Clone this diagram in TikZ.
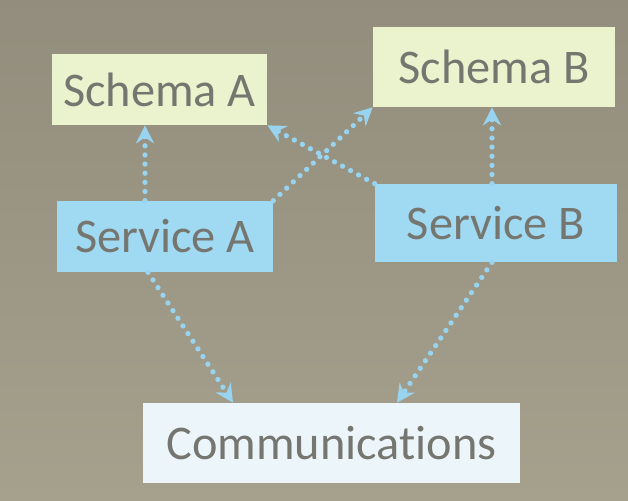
\documentclass[tikz,border=0pt]{standalone}
\usepackage{fontspec}
\setmainfont{Carlito}[Ligatures=NoCommon]
\usetikzlibrary{arrows.meta, positioning, calc}
\definecolor{slidetan}{RGB}{146, 141, 124}
\definecolor{slidetanlight}{RGB}{166, 161, 141}
\definecolor{schemayellow}{RGB}{234, 243, 206}
\definecolor{serviceblue}{RGB}{160, 217, 242}
\definecolor{commwhite}{RGB}{236, 246, 250}
\definecolor{linkblue}{RGB}{152, 211, 240}
\definecolor{labelgray}{RGB}{118, 118, 112}

\begin{document}
\begin{tikzpicture}[
    % Node styles
    box/.style={
        rectangle,
        fill=#1,
        text=labelgray,
        font=\fontsize{27.5}{30}\selectfont,
        inner sep=0pt
    },
    link/.style={
        -{Stealth[length=0.36cm, width=0.36cm, inset=0.12cm]},
        line width=3pt,
        dash pattern=on 0pt off 5.2pt,
        line cap=round,
        color=linkblue
    }
]

% ============================================
% BACKGROUND (projected slide)
% ============================================
\shade[top color=slidetan, bottom color=slidetanlight] (0, 0) rectangle (12.56, 10.02);
\useasboundingbox (0, 0) rectangle (12.56, 10.02);

% ============================================
% BOXES
% ============================================

% Schemas (top row)
\node[box=schemayellow, minimum width=4.3cm, minimum height=1.42cm] (schemaa) at (3.19, 8.23) {Schema A};
\node[box=schemayellow, minimum width=4.84cm, minimum height=1.6cm] (schemab) at (9.88, 8.68) {Schema B};

% Services (middle row)
\node[box=serviceblue, minimum width=4.32cm, minimum height=1.42cm] (serva) at (3.3, 5.29) {Service A};
\node[box=serviceblue, minimum width=4.84cm, minimum height=1.56cm] (servb) at (9.92, 5.56) {Service B};

% Communications (bottom)
\node[box=commwhite, minimum width=7.54cm, minimum height=1.6cm] (comm) at (6.63, 1.16) {Communications};

% ============================================
% DOTTED ARROWS
% ============================================

% Services -> own schema
\draw[link] ([xshift=-0.4cm]serva.north) -- ([xshift=-0.4cm]serva.north |- schemaa.south);
\draw[link] ([xshift=-0.08cm]servb.north) -- ([xshift=-0.08cm]servb.north |- schemab.south);

% Services -> other schema (crossing)
\draw[link] (serva.north east) -- (schemab.south west);
\draw[link] (servb.north west) -- (schemaa.south east);

% Services -> Communications
\draw[link] ([xshift=-0.34cm]serva.south) -- ([xshift=-1.97cm]comm.north);
\draw[link] ([xshift=-0.08cm]servb.south) -- ([xshift=1.31cm]comm.north);

\end{tikzpicture}
\end{document}
